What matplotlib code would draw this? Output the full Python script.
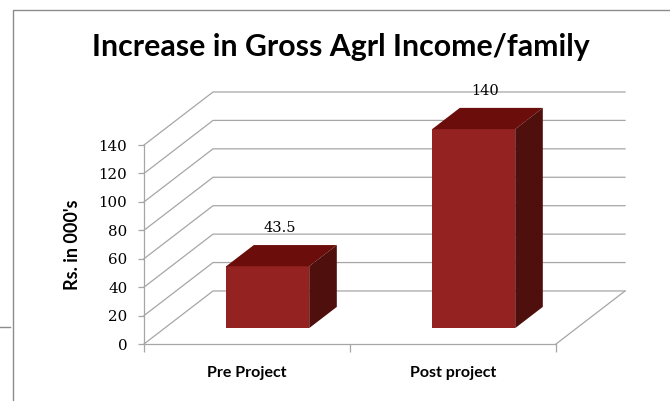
import matplotlib
matplotlib.use('Agg')

import matplotlib.pyplot as plt
from matplotlib.patches import Polygon
from matplotlib.lines import Line2D

categories = ['Pre Project', 'Post project']
values = [43.5, 140]
value_labels = ['43.5', '140']
yticks = [0, 20, 40, 60, 80, 100, 120, 140]
title = 'Increase in Gross Agrl Income/family'
ylabel = "Rs. in 000's"

FRONT = '#932220'
TOP = '#6a0d0b'
SIDE = '#4f0f0c'
GRID = '#a6a6a6'

# depth of the fake 3d box in data units
DX = 0.335
DY = 37.3
BAR_W = 0.403
D0, D1 = 0.3, 0.7   # bar front/back as fraction of depth

plt.rcParams['font.family'] = ['Lato', 'DejaVu Sans']
NUMFONT = 'DejaVu Serif'

W, H = 670, 401
fig = plt.figure(figsize=(W / 100, H / 100), dpi=100)
ax = fig.add_axes([144 / W, 1 - 344 / H, (625 - 144) / W, (344 - 92) / H])
ax.set_xlim(-0.5, -0.5 + (625 - 144) / 206)
ax.set_ylim(0, (344 - 92) / 1.4214)
ax.patch.set_alpha(0)

# back wall / side wall gridlines
n = len(categories)
for v in yticks:
    ax.plot([-0.5, -0.5 + DX, n - 0.5 + DX], [v, v + DY, v + DY],
            color=GRID, lw=0.9, zorder=1, clip_on=False)
ax.plot([n - 0.5, n - 0.5 + DX], [0, DY], color=GRID, lw=0.9, zorder=1, clip_on=False)

# bars: front face via bar(), top and side as polygons
xs = [i + D0 * DX for i in range(n)]
ax.bar(xs, values, width=BAR_W, bottom=D0 * DY, color=FRONT, zorder=3)
dd = (D1 - D0)
for i, v in enumerate(values):
    x0 = xs[i] - BAR_W / 2
    x1 = xs[i] + BAR_W / 2
    y0 = D0 * DY
    y1 = y0 + v
    top = Polygon([(x0, y1), (x0 + dd * DX, y1 + dd * DY), (x1 + dd * DX, y1 + dd * DY), (x1, y1)],
                  closed=True, facecolor=TOP, edgecolor='none', zorder=3)
    side = Polygon([(x1, y0), (x1 + dd * DX, y0 + dd * DY), (x1 + dd * DX, y1 + dd * DY), (x1, y1)],
                   closed=True, facecolor=SIDE, edgecolor='none', zorder=3)
    ax.add_patch(top)
    ax.add_patch(side)
    ax.text(i + 0.47 * DX, v + 0.5 * DY + 19.5, value_labels[i], ha='center', va='center',
            fontsize=10.5, color='black', family=NUMFONT)

for s in ['top', 'right']:
    ax.spines[s].set_visible(False)
ax.spines['left'].set_bounds(0, yticks[-1])
ax.spines['bottom'].set_bounds(-0.5, n - 0.5)
for s in ['left', 'bottom']:
    ax.spines[s].set_color(GRID)
    ax.spines[s].set_linewidth(0.9)

ax.set_yticks(yticks)
ax.set_yticklabels([str(t) for t in yticks], family=NUMFONT)
ax.tick_params(axis='y', length=4, width=0.9, color=GRID, pad=8, labelsize=10.8, labelcolor='black')
ax.set_xticks(range(n))
ax.set_xticklabels(categories, fontweight='bold')
ax.tick_params(axis='x', which='major', length=0, pad=16, labelsize=11.5)
ax.set_xticks([i - 0.5 for i in range(n + 1)], minor=True)
ax.tick_params(axis='x', which='minor', length=6, width=0.9, color=GRID)

fig.text(73 / W, 1 - 245 / H, ylabel, rotation=90, ha='center', va='center',
         fontsize=13, fontweight='bold')
fig.text(341 / W, 1 - 47 / H, title, ha='center', va='center', fontsize=21.8, fontweight='bold')

# chart frame
fig.add_artist(Line2D([13 / W, 13 / W, 1], [0, 1 - 10 / H, 1 - 10 / H], color='#8c8c8c', lw=1))
fig.add_artist(Line2D([0, 10 / W], [1 - 327 / H, 1 - 327 / H], color='#8c8c8c', lw=1))

fig.savefig('out.png', dpi=100, facecolor='white')
